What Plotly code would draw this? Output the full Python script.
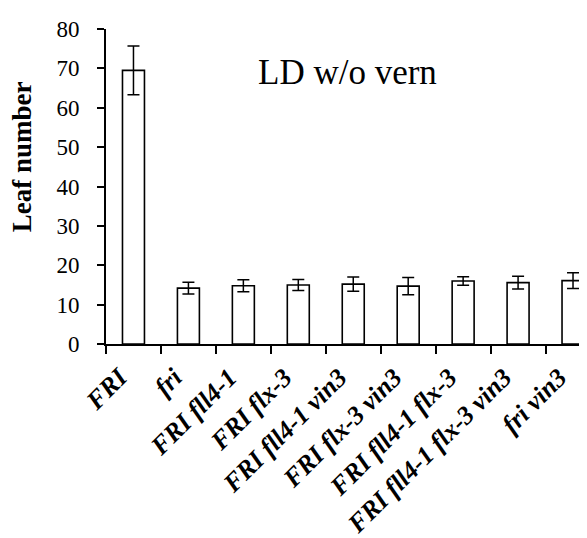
import plotly.graph_objects as go

genotypes = ["FRI", "fri", "FRI fll4-1", "FRI flx-3", "FRI fll4-1 vin3",
             "FRI flx-3 vin3", "FRI fll4-1 flx-3", "FRI fll4-1 flx-3 vin3", "fri vin3"]
leaf_number = [69.5, 14.2, 14.8, 15.0, 15.2, 14.7, 16.0, 15.6, 16.1]
leaf_error = [6.2, 1.5, 1.5, 1.4, 1.8, 2.2, 1.1, 1.6, 2.0]
y_ticks = [0, 10, 20, 30, 40, 50, 60, 70, 80]

serif = "Liberation Serif"

fig = go.Figure()
fig.add_trace(go.Bar(
    x=genotypes, y=leaf_number, width=0.4,
    marker=dict(color="white", line=dict(color="black", width=1.6)),
    error_y=dict(type="data", array=leaf_error, visible=True,
                 color="black", thickness=1.5, width=6),
))

fig.add_annotation(text="LD w/o vern", xref="paper", yref="y", x=0.493, y=69,
                   showarrow=False, xanchor="center", yanchor="middle",
                   font=dict(family=serif, size=35, color="black"))
fig.add_annotation(text="<b>Leaf number</b>", xref="paper", yref="y", x=-0.171, y=47.5,
                   showarrow=False, xanchor="center", yanchor="middle", textangle=-90,
                   font=dict(family=serif, size=27, color="black"))

fig.update_layout(
    width=587, height=538,
    margin=dict(l=98, r=0, t=21, b=202),
    paper_bgcolor="white", plot_bgcolor="white",
    font=dict(family=serif, color="black"),
    showlegend=False,
    xaxis=dict(type="category", range=[-0.5, 8.4], tickson="boundaries",
               ticks="outside", ticklen=8, tickwidth=1.5, tickcolor="black",
               showline=True, linecolor="black", linewidth=1.6,
               showgrid=False, tickangle=-45, ticklabelstandoff=6,
               ticklabelshift=-14,
               tickfont=dict(family=serif, size=26, color="black",
                             weight="bold", style="italic")),
    yaxis=dict(range=[0, 80], tickvals=y_ticks, ticks="outside", ticklen=7,
               tickwidth=1.5, tickcolor="black",
               showline=True, linecolor="black", linewidth=1.6,
               showgrid=False, zeroline=False, ticklabelstandoff=13,
               tickfont=dict(family=serif, size=23, color="black")),
)

fig.write_html("out.html")
